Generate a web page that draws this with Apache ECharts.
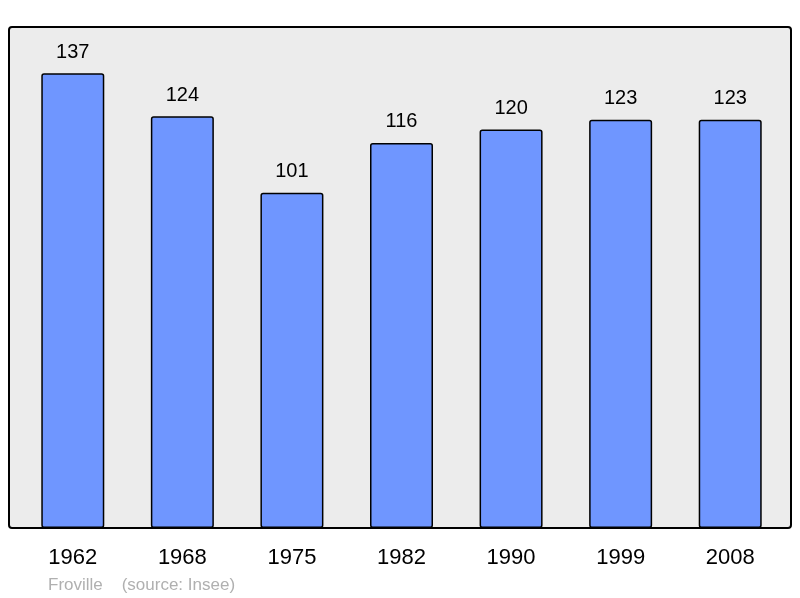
<!DOCTYPE html>
<html>
<head>
<meta charset="utf-8">
<script src="https://cdn.jsdelivr.net/npm/echarts@6/dist/echarts.min.js"></script>
<style>
  html, body { margin: 0; padding: 0; background: #fff; }
  #chart { width: 800px; height: 598px; }
</style>
</head>
<body>
<div id="chart"></div>
<script>
const years = ['1962', '1968', '1975', '1982', '1990', '1999', '2008']
const population = [137, 124, 101, 116, 120, 123, 123]
const footerText = 'Froville    (source: Insee)'

const chart = echarts.init(document.getElementById('chart'))

const option = {
  animation: false,
  textStyle: { fontFamily: 'Liberation Sans, Arial, sans-serif' },
  graphic: [
    {
      type: 'rect',
      z: -1,
      shape: { x: 9, y: 27, width: 782, height: 501, r: 3 },
      style: { fill: '#ececec', stroke: '#000', lineWidth: 2 }
    },
    {
      type: 'text',
      left: 48,
      top: 577,
      style: {
        text: footerText,
        fill: '#b0b0b0',
        font: '17px "Liberation Sans", Arial, sans-serif'
      }
    }
  ],
  grid: {
    left: 18,
    right: 15,
    top: 30,
    bottom: 70,
    containLabel: false
  },
  xAxis: {
    type: 'category',
    data: years,
    axisLine: { show: false },
    axisTick: { show: false },
    axisLabel: {
      color: '#000',
      fontSize: 22,
      margin: 19
    }
  },
  yAxis: {
    type: 'value',
    min: 0,
    max: 150,
    show: false,
    splitLine: { show: false }
  },
  series: [
    {
      type: 'bar',
      data: population,
      barWidth: 63,
      itemStyle: {
        color: '#6f96ff',
        borderColor: '#000',
        borderWidth: 1.5,
        borderRadius: 2
      },
      label: {
        show: true,
        position: 'top',
        distance: 11,
        color: '#000',
        fontSize: 20
      }
    }
  ]
}

chart.setOption(option)
</script>
</body>
</html>
